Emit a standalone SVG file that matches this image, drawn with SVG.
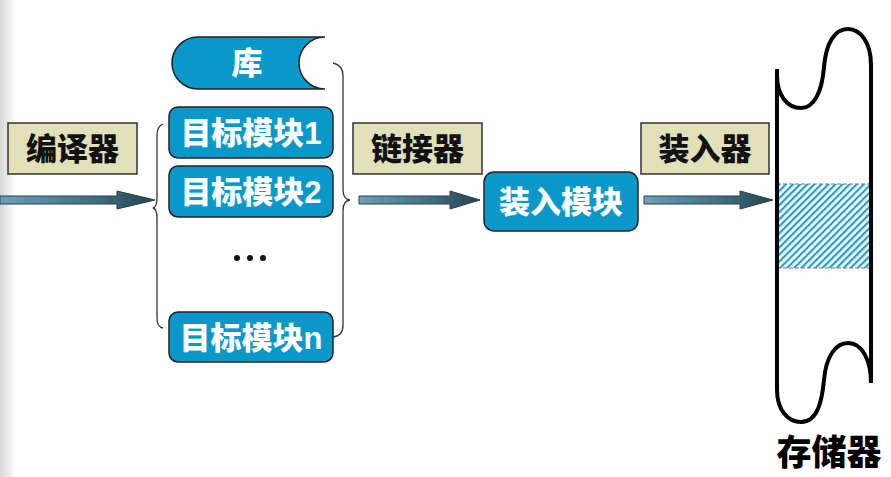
<svg xmlns="http://www.w3.org/2000/svg" width="891" height="477" viewBox="0 0 891 477">
<defs>
<linearGradient id="edge" x1="0" y1="0" x2="1" y2="0">
<stop offset="0" stop-color="#d8d8d8"/>
<stop offset="1" stop-color="#ffffff"/>
</linearGradient>
<linearGradient id="arr" x1="0" y1="0" x2="1" y2="0">
<stop offset="0" stop-color="#6aa0ba"/>
<stop offset="0.6" stop-color="#3f6f82"/>
<stop offset="1" stop-color="#27434e"/>
</linearGradient>
<pattern id="hatch" width="5" height="5" patternUnits="userSpaceOnUse" patternTransform="rotate(45)">
<rect width="5" height="5" fill="#ffffff"/>
<rect x="0" y="0" width="2.2" height="5" fill="#1fa0d2"/>
</pattern>
<style>
.lbl{fill:#e0e0b9;stroke:#333;stroke-width:1.5}
.blue{fill:#0a98ca;stroke:#222;stroke-width:1.5}
.bt{font-family:"Liberation Sans","Noto Sans CJK SC",sans-serif;font-weight:900;font-size:31px;text-anchor:middle}
.wt{fill:#fff}
.kt{fill:#111}
.arrow{fill:url(#arr);stroke:#2a3f48;stroke-width:1}
.brace{fill:none;stroke:#333;stroke-width:1.3}
.mem{fill:none;stroke:#000;stroke-width:4}
</style>
</defs>
<rect width="891" height="477" fill="#fff"/>
<rect x="0" y="0" width="16" height="477" fill="url(#edge)"/>

<g id="connectors">
<path class="arrow" d="M0,196 H117 V191 L155,200 L117,209 V204 H0 Z"/>
<path class="arrow" d="M359,196 H450 V191 L480,200 L450,209 V204 H359 Z"/>
<path class="arrow" d="M644,196 H740 V191 L773,200 L740,209 V204 H644 Z"/>
<path class="brace" d="M163,124 Q157,126 157,136 V198 Q157,207 153,208 Q157,209 157,218 V318 Q157,327 163,328"/>
<path class="brace" d="M333,63 Q343,65 343,76 V190 Q343,199 350,200 Q343,201 343,210 V325 Q343,336 333,337"/>
</g>

<g id="compiler">
<rect class="lbl" x="8" y="123" width="129" height="51"/>
<text class="bt kt" x="72.5" y="160">编译器</text>
</g>

<g id="library">
<path class="blue" d="M198,37 H325 A26,26 0 0 0 325,89 H198 A26,26 0 0 1 198,37 Z"/>
<text class="bt wt" x="247" y="74">库</text>
</g>

<g id="mod1">
<rect class="blue" x="169" y="107" width="164" height="51" rx="9"/>
<text class="bt wt" x="251" y="144">目标模块1</text>
</g>

<g id="mod2">
<rect class="blue" x="169" y="166" width="164" height="51" rx="9"/>
<text class="bt wt" x="251" y="203">目标模块2</text>
</g>

<g id="dots">
<circle cx="237" cy="258" r="3" fill="#111"/>
<circle cx="250" cy="258" r="3" fill="#111"/>
<circle cx="263" cy="258" r="3" fill="#111"/>
</g>

<g id="modn">
<rect class="blue" x="169" y="312" width="164" height="50" rx="9"/>
<text class="bt wt" x="251" y="349">目标模块n</text>
</g>

<g id="linker">
<rect class="lbl" x="353" y="123" width="129" height="51"/>
<text class="bt kt" x="417.5" y="160">链接器</text>
</g>

<g id="loadmodule">
<rect class="blue" x="484" y="172" width="154" height="59" rx="10"/>
<text class="bt wt" x="561" y="213">装入模块</text>
</g>

<g id="loader">
<rect class="lbl" x="641" y="123" width="128" height="51"/>
<text class="bt kt" x="705" y="160">装入器</text>
</g>

<g id="memory">
<rect x="777" y="184" width="94" height="84" fill="url(#hatch)"/>
<line x1="777" y1="184" x2="871" y2="184" stroke="#777" stroke-width="1" stroke-dasharray="4,2"/>
<line x1="777" y1="268" x2="871" y2="268" stroke="#777" stroke-width="1" stroke-dasharray="4,2"/>
<path class="mem" d="M777,69 V390 C777,410 788,422 801,422 C818,422 822,400 824,380 C826,356 836,343 848,343 C862,343 871,360 871,383 V65 C871,42 860,29 848,29 C834,29 826,44 824,67 C822,92 814,108 801,108 C787,108 777,95 777,75"/>
<text x="829" y="465" font-family="'Noto Sans CJK SC',sans-serif" font-weight="900" font-size="35" text-anchor="middle" fill="#000">存储器</text>
</g>
</svg>
